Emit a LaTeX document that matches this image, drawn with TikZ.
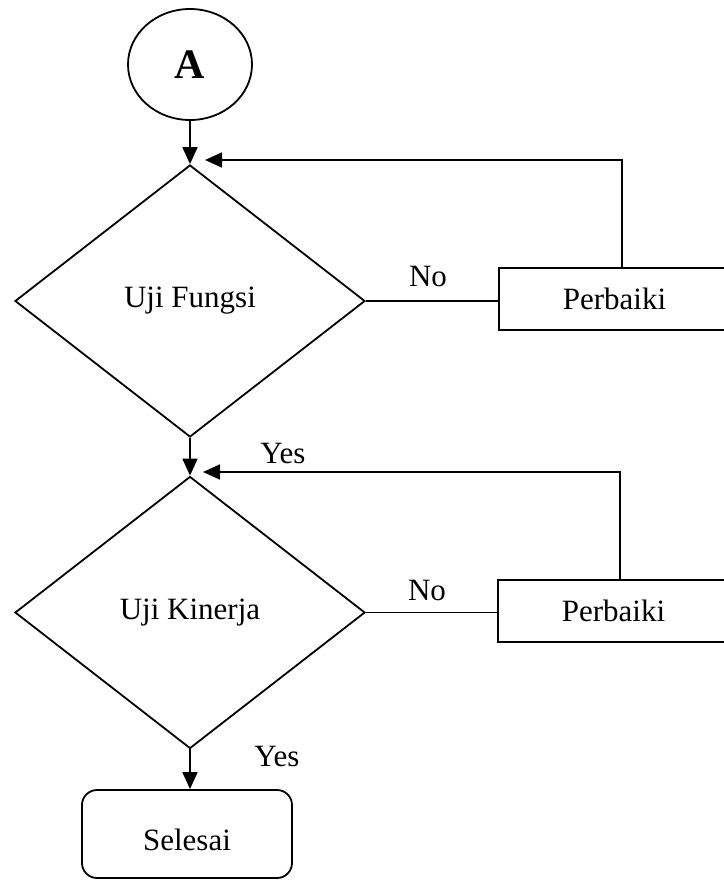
\documentclass[tikz,border=0pt]{standalone}
\usepackage{fontspec}
\setmainfont{Liberation Serif}
\usetikzlibrary{shapes.geometric,arrows.meta}
\begin{document}
\begin{tikzpicture}[x=1pt,y=-1pt,
  every node/.style={font=\fontsize{31}{36}\selectfont},
  line/.style={line width=1.8pt},
  arr/.style={line width=1.8pt,-{Triangle[length=17pt,width=15pt]}},
  decision/.style={draw,line width=1.8pt,shape=diamond,minimum width=350pt,minimum height=272pt,inner sep=0pt},
  procbox/.style={draw,line width=1.8pt,rectangle,minimum width=231pt,minimum height=62pt,inner sep=0pt},
  endbox/.style={draw,line width=1.8pt,rectangle,rounded corners=15pt,minimum width=210pt,minimum height=88pt,inner sep=0pt},
  lbl/.style={inner sep=0pt}]
\useasboundingbox (0,0) rectangle (723,880);
\node[draw,line width=1.8pt,ellipse,minimum width=124pt,minimum height=111pt,inner sep=0pt,font=\fontsize{42}{48}\selectfont\bfseries] (A) at (190,64.5) {A};
\node[decision] (d1) at (190,301) {Uji Fungsi};
\node[decision] (d2) at (190,612.5) {Uji Kinerja};
\node[procbox] (p1) at (614.5,299) {Perbaiki};
\node[procbox] (p2) at (613.5,611) {Perbaiki};
\node[endbox,text height=33pt,text depth=0pt] (s) at (187,834) {Selesai};
\coordinate (j1) at (205,160);
\coordinate (j2) at (203,472);
\coordinate (u1) at (622,160);
\coordinate (u2) at (620,472);
\draw[arr] (A) -- (d1.north);
\draw[line] (d1.east) -- (d1.east -| p1.west);
\draw[arr] (u1 |- p1.north) -- (u1) -- (j1);
\draw[arr] (d1.south) -- (d2.north);
\draw[line] (d2.east) -- (d2.east -| p2.west);
\draw[arr] (u2 |- p2.north) -- (u2) -- (j2);
\draw[arr] (d2.south) -- (d2.south |- s.north);
\node[lbl] (no1) at (428,276) {No};
\node[lbl] (no2) at (427,590) {No};
\node[lbl] (yes1) at (283,453) {Yes};
\node[lbl] (yes2) at (277,756) {Yes};
\end{tikzpicture}
\end{document}
